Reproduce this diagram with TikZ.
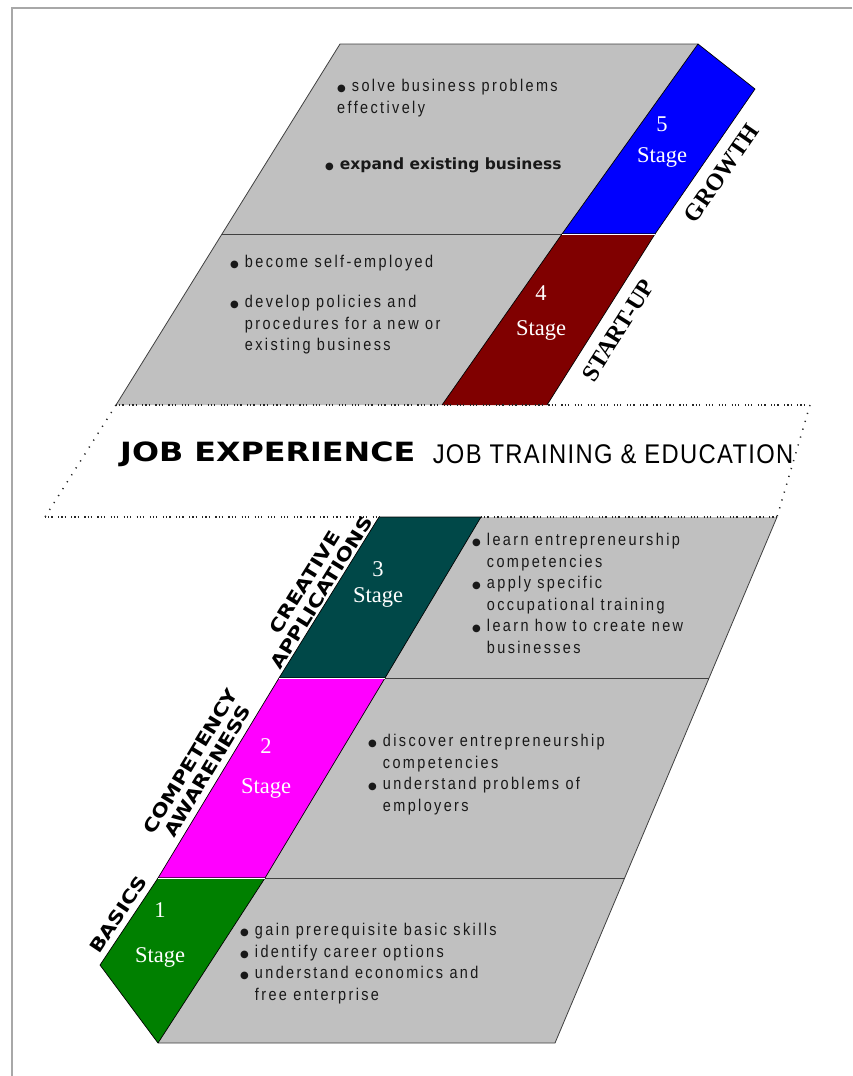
\documentclass[tikz,border=0pt]{standalone}
\usepackage{fontspec}
\setmainfont{Liberation Sans}
\newfontfamily\bodyfont{Liberation Sans}[FakeStretch=0.85,LetterSpace=14]
\newfontfamily\narrowfont{Liberation Sans}[FakeStretch=0.88,LetterSpace=5]
\newfontfamily\heavyfont{DejaVu Sans}
\newfontfamily\widefont{DejaVu Sans}[FakeStretch=1.2]
\newfontfamily\stagefont{Liberation Serif}
\usetikzlibrary{calc,positioning}
\definecolor{silver}{HTML}{C0C0C0}
\definecolor{stageblue}{HTML}{0000FF}
\definecolor{stagered}{HTML}{800000}
\definecolor{stageteal}{HTML}{004848}
\definecolor{stagemag}{HTML}{FF00FF}
\definecolor{stagegreen}{HTML}{008000}
\definecolor{framegray}{HTML}{A8A8A8}
\newcommand\blt{{\heavyfont\fontsize{10}{10}\selectfont ●}\hspace{6pt}}
\newcommand\hang{\hphantom{\blt}}
\tikzset{
  block/.style={ % grey panel with the goals of a stage
    fill=silver, draw=none
  },
  rim/.style={draw=black!75, line width=0.8pt},
  strip/.style={ % coloured stage strip
    draw=black, line width=0.7pt, line join=round
  },
  seam/.style={white, line width=0.9pt},
  dotrow/.style={ % dotted border of the middle band
    draw=black!85, line width=1.5pt,
    dash pattern=on 1.2pt off 2pt on 1.2pt off 2pt on 1.2pt off 5.5pt
  },
  dotside/.style={draw=black!85, line width=1.5pt, dash pattern=on 1.2pt off 7pt},
  stagenum/.style={
    text=white, align=center, inner sep=0pt,
    font=\stagefont\fontsize{22.5}{26}\selectfont
  },
  phase/.style={inner sep=0pt, font=\stagefont\bfseries\fontsize{24}{26}\selectfont},
  phasesans/.style={
    inner sep=0pt, align=center,
    font=\widefont\bfseries\fontsize{18}{19.5}\selectfont
  },
  items/.style={
    anchor=north west, inner sep=0pt, align=left, text=black!90,
    font=\bodyfont\fontsize{17}{21.5}\selectfont
  }
}
\begin{document}
\begin{tikzpicture}[x=1pt,y=-1pt]
  \useasboundingbox (0,0) rectangle (852,1076);
  \draw[framegray, line width=2pt] (12,1076) -- (12,8) -- (852,8);

  % upper block: stages 4 and 5
  \coordinate (tl) at (340,44);
  \coordinate (tm) at (698,44);
  \coordinate (bt) at (755,89);
  \coordinate (ml) at (222,234);
  \coordinate (bm) at (562,234);
  \coordinate (br5) at (655,234);
  \coordinate (bl) at (116,405);
  \coordinate (rl) at (442,405);
  \coordinate (rr) at (547,405);
  \fill[block] (tl) -- (tm) -- (bm) -- (rl) -- (bl) -- (ml) -- cycle;
  \draw[rim] (bl) -- (ml) -- (tl) -- (tm);
  \draw[rim] (ml) -- (bm);
  \filldraw[strip, fill=stageblue] (tm) -- (bt) -- (br5) -- (bm) -- cycle;
  \fill[stagered] (bm) -- (br5) -- (rr) -- (rl) -- cycle;
  \draw[strip] (rl) -- (bm) -- (br5) -- (rr);
  \draw[seam] (bm) -- (br5);

  % middle band
  \coordinate (bandtr) at (810,405);
  \coordinate (bandbl) at (45,517);
  \coordinate (bandbr) at (777,517);

  % lower block: stages 1 to 3
  \coordinate (tealtl) at (379,517);
  \coordinate (tealtr) at (481,517);
  \coordinate (tealbl) at (279,678);
  \coordinate (tealbr) at (385,678);
  \coordinate (magbl) at (158,878);
  \coordinate (magbr) at (265,878);
  \coordinate (grl) at (100,965);
  \coordinate (grb) at (158,1043);
  \coordinate (g3r) at (709,678);
  \coordinate (g2r) at (625,878);
  \coordinate (g1r) at (555,1043);
  \fill[block] (tealtr) -- (bandbr) -- (g1r) -- (grb) -- (magbr) -- (tealbr) -- cycle;
  \draw[rim] (bandbr) -- (g1r) -- (grb);
  \draw[rim] (tealbr) -- (g3r);
  \draw[rim] (magbr) -- (g2r);
  \filldraw[strip, fill=stageteal] (tealtl) -- (tealtr) -- (tealbr) -- (tealbl) -- cycle;
  \filldraw[strip, fill=stagemag] (tealbl) -- (tealbr) -- (magbr) -- (magbl) -- cycle;
  \filldraw[strip, fill=stagegreen] (magbl) -- (magbr) -- (grb) -- (grl) -- cycle;
  \draw[seam] (tealbl) -- (tealbr);
  \draw[seam] (magbl) -- (magbr);

  \draw[dotrow] (bl) -- (bandtr);
  \draw[dotrow] (bandbl) -- (tealtl);
  \draw[dotrow] (tealtr) -- (bandbr);
  \draw[dotside] (bl) -- (bandbl);
  \draw[dotside] (bandtr) -- (bandbr);
  \node[anchor=west, inner sep=0pt, font=\widefont\bfseries\fontsize{26.5}{30}\selectfont]
    (jobexp) at (120,454) {JOB EXPERIENCE};
  \node[right=17pt of jobexp, inner sep=0pt, font=\narrowfont\fontsize{27}{30}\selectfont]
    (jobtrain) {JOB TRAINING \& EDUCATION};

  % stage numbers
  \node[stagenum] (st5) at (662,142) {5\\[5pt]Stage};
  \node[stagenum] (st4) at (541,313) {4\\[9pt]Stage};
  \node[stagenum] (st3) at (378,584) {3\\[0pt]Stage};
  \node[stagenum] (st2) at (266,768) {2\\[14pt]Stage};
  \node[stagenum] (st1) at (160,935) {1\\[19pt]Stage};

  % stage names along the strips
  \path (br5) -- (bt) node[midway, sloped, below=12pt, phase] (growth) {GROWTH};
  \path (rr) -- (br5) node[midway, sloped, below=12pt, phase] (startup) {START-UP};
  \path (tealbl) -- (tealtl) node[midway, sloped, above=2pt, phasesans] (creative) {CREATIVE\\APPLICATIONS};
  \path (magbl) -- (tealbl) node[midway, sloped, above=6pt, phasesans] (competency) {COMPETENCY\\AWARENESS};
  \path (grl) -- (magbl) node[midway, sloped, above=6pt, phasesans] (basics) {BASICS};

  % goals of each stage
  \node[items] (goals5) at (337,79) {\blt solve business problems\\effectively};
  \node[anchor=west, inner sep=0pt, text=black!90, font=\heavyfont\bfseries\fontsize{15.5}{18}\selectfont]
    (goals5b) at (325,165) {\blt expand existing business};
  \node[items] (goals4) at (230,255) {\blt become self-employed\\[18.5pt]
    \blt develop policies and\\ \hang procedures for a new or\\ \hang existing business};
  \node[items] (goals3) at (472,533) {\blt learn entrepreneurship\\ \hang competencies\\
    \blt apply specific\\ \hang occupational training\\
    \blt learn how to create new\\ \hang businesses};
  \node[items] (goals2) at (368,734) {\blt discover entrepreneurship\\ \hang competencies\\
    \blt understand problems of\\ \hang employers};
  \node[items] (goals1) at (240,923) {\blt gain prerequisite basic skills\\
    \blt identify career options\\ \blt understand economics and\\ \hang free enterprise};
\end{tikzpicture}
\end{document}
